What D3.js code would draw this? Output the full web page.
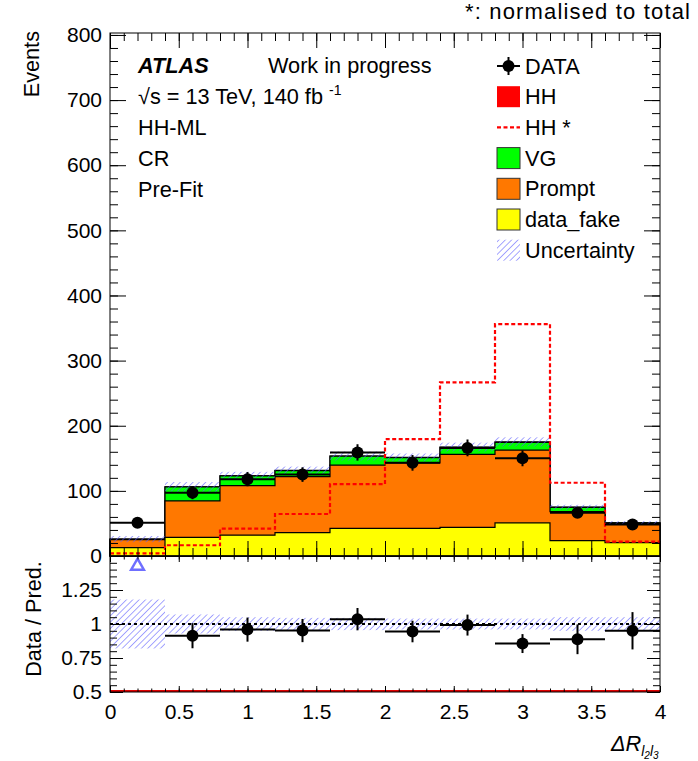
<!DOCTYPE html>
<html>
<head>
<meta charset="utf-8">
<script src="https://cdn.jsdelivr.net/npm/d3@7"></script>
<style>
  body { margin: 0; background: #fff; }
  svg { font-family: 'Liberation Sans', Arial, Helvetica, sans-serif; }
</style>
</head>
<body>
<div id="chart"></div>
<script>
// bin edges of dR(l2,l3)
const binEdges = [0, 0.4, 0.8, 1.2, 1.6, 2.0, 2.4, 2.8, 3.2, 3.6, 4.0]

// stacked backgrounds (bottom -> top)
const dataFake = [13, 28.5, 32, 36, 42.5, 42.5, 44, 51, 23.5, 20.5]
const prompt   = [12, 56, 76, 86, 97, 100.5, 112, 111.7, 44.5, 29.5]
const vg       = [1, 21.6, 15, 9.2, 13.8, 8, 10.8, 11.8, 6.7, 1]
const hh       = [0.01, 0.03, 0.08, 0.13, 0.22, 0.36, 0.53, 0.71, 0.22, 0.04]

// HH normalised to total (dotted)
const hhNorm = [4, 16.5, 42, 64.5, 110.5, 179.5, 266.5, 356, 112.5, 22]

// data and its errors
const dataVals = [51, 97, 118, 125, 159, 143, 166, 150, 66.5, 48.5]
const dataErr  = [7.1, 9.8, 10.9, 11.2, 12.6, 12.0, 12.9, 12.2, 8.2, 7.0]

// relative uncertainty on the prediction
const uncRel = [0.18, 0.07, 0.05, 0.045, 0.045, 0.04, 0.04, 0.04, 0.05, 0.05]

const yMajor = [0, 100, 200, 300, 400, 500, 600, 700, 800]
const xMajor = [0, 0.5, 1, 1.5, 2, 2.5, 3, 3.5, 4]
const rMajor = [0.5, 0.75, 1, 1.25, 1.5]

const legendLabels = ['DATA', 'HH', 'HH *', 'VG', 'Prompt', 'data_fake', 'Uncertainty']
const infoLines = ['HH-ML', 'CR', 'Pre-Fit']

const colors = { fake: '#ffff00', prompt: '#ff7800', vg: '#00ff00', hh: '#ff0000', hatch: '#5c5cff' }

const W = 698, H = 761
const FS = 21     // tick labels
const TS = 21.7   // annotation / legend texts

const svg = d3.select('#chart').append('svg')
  .attr('width', W)
  .attr('height', H)

// hatch pattern for uncertainty
const defs = svg.append('defs')
defs.append('pattern')
  .attr('id', 'hatch')
  .attr('patternUnits', 'userSpaceOnUse')
  .attr('width', 4.5).attr('height', 4.5)
  .attr('patternTransform', 'rotate(45)')
  .append('line')
  .attr('x1', 0).attr('y1', 0).attr('x2', 0).attr('y2', 4.5)
  .attr('stroke', colors.hatch).attr('stroke-width', 1.1)

const x = d3.scaleLinear().domain([0, 4]).range([110, 660])
const y = d3.scaleLinear().domain([0, 803]).range([556, 33])
const yr = d3.scaleLinear().domain([0.5, 1.5]).range([692, 556])

const nb = dataVals.length
const rows = d3.range(nb).map(i => ({ fake: dataFake[i], prompt: prompt[i], vg: vg[i], hh: hh[i] }))
const keys = ['fake', 'prompt', 'vg', 'hh']
const stacked = d3.stack().keys(keys)(rows)
const totals = rows.map(r => r.fake + r.prompt + r.vg + r.hh)

// step helpers: n bins -> n+1 points
const stepPts = vals => binEdges.map((e, i) => [e, vals[Math.min(i, vals.length - 1)]])

const main = svg.append('g')

// Draw stack, largest cumulative first
const area = d3.area()
  .x(d => x(d[0]))
  .y0(y(0))
  .y1(d => y(d[1]))
  .curve(d3.curveStepAfter)

stacked.slice().reverse().forEach(layer => {
  main.append('path')
    .datum(stepPts(layer.map(d => d[1])))
    .attr('d', area)
    .attr('fill', colors[layer.key])
    .attr('stroke', '#000')
    .attr('stroke-width', 1.2)
})

// Uncertainty band
main.append('g').selectAll('rect')
  .data(totals)
  .join('rect')
  .attr('x', (d, i) => x(binEdges[i]))
  .attr('width', (d, i) => x(binEdges[i + 1]) - x(binEdges[i]))
  .attr('y', (d, i) => y(d * (1 + uncRel[i])))
  .attr('height', (d, i) => y(d * (1 - uncRel[i])) - y(d * (1 + uncRel[i])))
  .attr('fill', 'url(#hatch)')

// HH normalised (dotted step)
const line = d3.line()
  .x(d => x(d[0]))
  .y(d => y(d[1]))
  .curve(d3.curveStepAfter)

main.append('path')
  .datum(stepPts(hhNorm))
  .attr('d', line)
  .attr('fill', 'none')
  .attr('stroke', '#ff0000')
  .attr('stroke-width', 2.2)
  .attr('stroke-dasharray', '4,2.5')

// Data points
const dataG = main.append('g')
dataVals.forEach((v, i) => {
  const xc = x((binEdges[i] + binEdges[i + 1]) / 2)
  dataG.append('line')
    .attr('x1', x(binEdges[i])).attr('x2', x(binEdges[i + 1]))
    .attr('y1', y(v)).attr('y2', y(v))
    .attr('stroke', '#000').attr('stroke-width', 2)
  dataG.append('line')
    .attr('x1', xc).attr('x2', xc)
    .attr('y1', y(v - dataErr[i])).attr('y2', y(v + dataErr[i]))
    .attr('stroke', '#000').attr('stroke-width', 2)
  dataG.append('circle')
    .attr('cx', xc)
    .attr('cy', y(v))
    .attr('r', 6)
    .attr('fill', '#000')
})

// ---- ratio panel ----
const ratio = svg.append('g')

ratio.append('g').selectAll('rect')
  .data(uncRel)
  .join('rect')
  .attr('x', (d, i) => x(binEdges[i]))
  .attr('width', (d, i) => x(binEdges[i + 1]) - x(binEdges[i]))
  .attr('y', d => yr(1 + d))
  .attr('height', d => yr(1 - d) - yr(1 + d))
  .attr('fill', 'url(#hatch)')

ratio.append('line')
  .attr('x1', x(0)).attr('x2', x(4))
  .attr('y1', yr(1)).attr('y2', yr(1))
  .attr('stroke', '#000').attr('stroke-width', 2)
  .attr('stroke-dasharray', '3,3')

ratio.append('line')
  .attr('x1', x(0)).attr('x2', x(4))
  .attr('y1', yr(0.5) - 1).attr('y2', yr(0.5) - 1)
  .attr('stroke', '#e00000').attr('stroke-width', 2)

dataVals.forEach((v, i) => {
  const r = v / totals[i]
  const e = dataErr[i] / totals[i]
  const xc = x((binEdges[i] + binEdges[i + 1]) / 2)
  if (r > 1.5) {
    // out of range: arrow marker
    ratio.append('path')
      .attr('d', d3.symbol().type(d3.symbolTriangle).size(70)())
      .attr('transform', `translate(${xc},${yr(1.5) + 10})`)
      .attr('fill', 'none')
      .attr('stroke', '#6f6fff')
      .attr('stroke-width', 2.5)
    return
  }
  ratio.append('line')
    .attr('x1', x(binEdges[i])).attr('x2', x(binEdges[i + 1]))
    .attr('y1', yr(r)).attr('y2', yr(r))
    .attr('stroke', '#000').attr('stroke-width', 2)
  ratio.append('line')
    .attr('x1', xc).attr('x2', xc)
    .attr('y1', yr(r - e)).attr('y2', yr(r + e))
    .attr('stroke', '#000').attr('stroke-width', 2)
  ratio.append('circle')
    .attr('cx', xc).attr('cy', yr(r))
    .attr('r', 6).attr('fill', '#000')
})

// ---- axes (ROOT style, inward ticks) ----
function drawAxis(axis, tx, ty) {
  const g = svg.append('g')
    .attr('transform', `translate(${tx},${ty})`)
    .call(axis)
  g.select('.domain').remove()
  g.selectAll('line').attr('stroke', '#000').attr('stroke-width', 1)
  g.selectAll('text').attr('font-size', FS).attr('font-family', 'Liberation Sans, Arial, sans-serif').attr('fill', '#000')
  return g
}

const noLabel = () => ''
const minorY = d3.range(0, 801, 20)
const minorX = d3.range(0, 4.001, 0.1)
const minorR = d3.range(0.5, 1.501, 0.05)

// main panel
drawAxis(d3.axisLeft(y).tickValues(yMajor).tickSize(-16).tickPadding(8).tickFormat(d => d), x(0), 0)
drawAxis(d3.axisLeft(y).tickValues(minorY).tickSize(-8).tickFormat(noLabel), x(0), 0)
drawAxis(d3.axisRight(y).tickValues(yMajor).tickSize(-16).tickFormat(noLabel), x(4), 0)
drawAxis(d3.axisRight(y).tickValues(minorY).tickSize(-8).tickFormat(noLabel), x(4), 0)
drawAxis(d3.axisBottom(x).tickValues(xMajor).tickSize(-15).tickFormat(noLabel), 0, y(0))
drawAxis(d3.axisBottom(x).tickValues(minorX).tickSize(-8).tickFormat(noLabel), 0, y(0))
drawAxis(d3.axisTop(x).tickValues(xMajor).tickSize(-15).tickFormat(noLabel), 0, 33)
drawAxis(d3.axisTop(x).tickValues(minorX).tickSize(-8).tickFormat(noLabel), 0, 33)

// ratio panel
drawAxis(d3.axisLeft(yr).tickValues(rMajor).tickSize(-13).tickPadding(8).tickFormat(d => d === 1.5 ? '' : d), x(0), 0)
drawAxis(d3.axisLeft(yr).tickValues(minorR).tickSize(-7).tickFormat(noLabel), x(0), 0)
drawAxis(d3.axisRight(yr).tickValues(rMajor).tickSize(-13).tickFormat(noLabel), x(4), 0)
drawAxis(d3.axisRight(yr).tickValues(minorR).tickSize(-7).tickFormat(noLabel), x(4), 0)
drawAxis(d3.axisBottom(x).tickValues(xMajor).tickSize(-6).tickPadding(12).tickFormat(d => d), 0, yr(0.5))
drawAxis(d3.axisBottom(x).tickValues(minorX).tickSize(-3.5).tickFormat(noLabel), 0, yr(0.5))
drawAxis(d3.axisTop(x).tickValues(xMajor).tickSize(-6).tickFormat(noLabel), 0, yr(1.5))
drawAxis(d3.axisTop(x).tickValues(minorX).tickSize(-3.5).tickFormat(noLabel), 0, yr(1.5))

// frames
svg.append('rect')
  .attr('x', x(0)).attr('y', 33)
  .attr('width', x(4) - x(0)).attr('height', y(0) - 33)
  .attr('fill', 'none').attr('stroke', '#000').attr('stroke-width', 1)
svg.append('rect')
  .attr('x', x(0)).attr('y', yr(1.5))
  .attr('width', x(4) - x(0)).attr('height', yr(0.5) - yr(1.5))
  .attr('fill', 'none').attr('stroke', '#000').attr('stroke-width', 1)

// ---- texts ----
const txt = (tx, ty, s) => svg.append('text')
  .attr('x', tx).attr('y', ty)
  .attr('font-size', TS)
  .attr('fill', '#000')
  .text(s)

txt(690, 19, '*: normalised to total')
  .attr('text-anchor', 'end')
  .attr('textLength', 225)
  .attr('font-size', 22)

svg.append('text')
  .attr('transform', 'translate(39,31) rotate(-90)')
  .attr('text-anchor', 'end')
  .attr('font-size', TS)
  .text('Events')

svg.append('text')
  .attr('transform', 'translate(41,619) rotate(-90)')
  .attr('text-anchor', 'middle')
  .attr('font-size', TS)
  .text('Data / Pred.')

txt(138, 73, 'ATLAS').attr('font-weight', 'bold').attr('font-style', 'italic')
txt(268, 73, 'Work in progress')

const lumi = txt(138, 104, '')
lumi.append('tspan').text('√s = 13 TeV, 140 fb ')
lumi.append('tspan').attr('font-size', 14).attr('dy', -9).text('-1')

infoLines.forEach((s, i) => txt(138, 135 + i * 31, s))

// x-axis title
const xt = svg.append('text')
  .attr('x', 611).attr('y', 751)
  .attr('font-size', TS)
  .attr('font-style', 'italic')
xt.append('tspan').text('ΔR')
xt.append('tspan').attr('font-size', 14).attr('dy', 5).text('l')
xt.append('tspan').attr('font-size', 10).attr('dy', 3).text('2')
xt.append('tspan').attr('font-size', 14).attr('dy', -3).text('l')
xt.append('tspan').attr('font-size', 10).attr('dy', 3).text('3')

// ---- legend ----
const legend = svg.append('g')
const rowY = i => 66 + i * 30.7
const bx = 497, bw = 23, bh = 21
legendLabels.forEach((s, i) => {
  const cy = rowY(i)
  if (i === 0) {
    legend.append('line').attr('x1', bx).attr('x2', bx + bw).attr('y1', cy).attr('y2', cy)
      .attr('stroke', '#000').attr('stroke-width', 2)
    legend.append('line').attr('x1', bx + bw / 2).attr('x2', bx + bw / 2).attr('y1', cy - 9).attr('y2', cy + 9)
      .attr('stroke', '#000').attr('stroke-width', 2)
    legend.append('circle').attr('cx', bx + bw / 2).attr('cy', cy).attr('r', 6).attr('fill', '#000')
  } else if (i === 2) {
    legend.append('line').attr('x1', bx).attr('x2', bx + bw).attr('y1', cy).attr('y2', cy)
      .attr('stroke', '#ff0000').attr('stroke-width', 2.2).attr('stroke-dasharray', '4,2.5')
  } else if (i === 6) {
    legend.append('rect').attr('x', bx).attr('y', cy - bh / 2).attr('width', bw).attr('height', bh)
      .attr('fill', 'url(#hatch)')
  } else {
    const c = [null, colors.hh, null, colors.vg, colors.prompt, colors.fake][i]
    legend.append('rect').attr('x', bx).attr('y', cy - bh / 2).attr('width', bw).attr('height', bh)
      .attr('fill', c).attr('stroke', i === 1 ? 'none' : '#333').attr('stroke-width', 1)
  }
  legend.append('text')
    .attr('x', 525).attr('y', cy + 7.5)
    .attr('font-size', TS)
    .text(s)
})
</script>
</body>
</html>
